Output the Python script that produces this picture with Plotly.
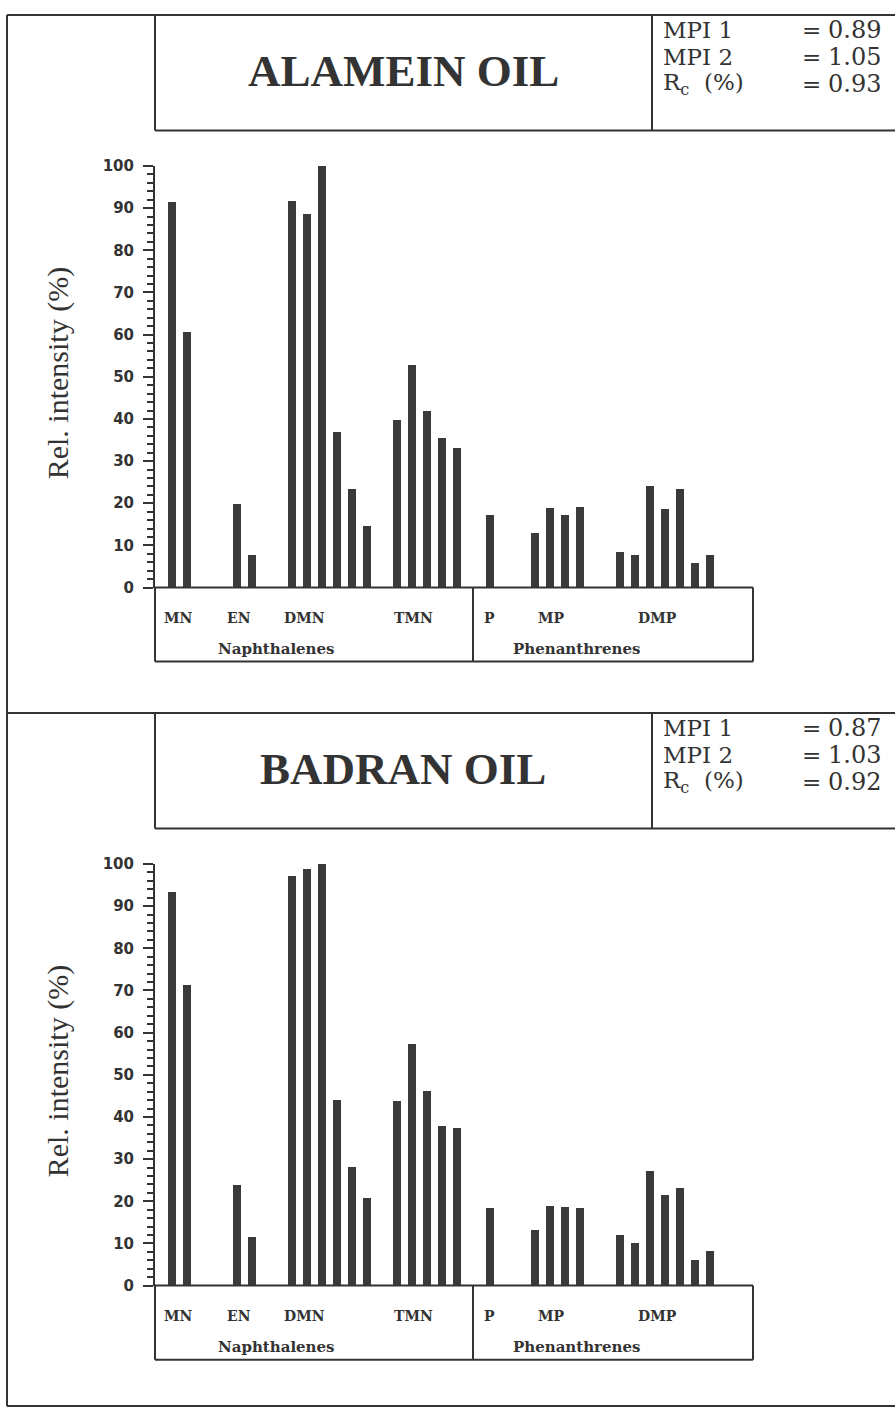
import plotly.graph_objects as go

# ---------------- data ----------------
groups = ["MN", "EN", "DMN", "TMN", "P", "MP", "DMP"]
compounds = {
    "MN": ["2-MN", "1-MN"],
    "EN": ["2-EN", "1-EN"],
    "DMN": ["2,6+2,7-DMN", "1,3+1,7-DMN", "1,6-DMN", "1,4+2,3-DMN", "1,5-DMN", "1,2-DMN"],
    "TMN": ["TMN-1", "TMN-2", "TMN-3", "TMN-4", "TMN-5"],
    "P": ["P"],
    "MP": ["3-MP", "2-MP", "9-MP", "1-MP"],
    "DMP": ["DMP-1", "DMP-2", "DMP-3", "DMP-4", "DMP-5", "DMP-6", "DMP-7"],
}
alamein = [91.4, 60.6, 19.8, 7.8, 91.8, 88.5, 100, 36.8, 23.4, 14.6,
           39.7, 52.8, 41.8, 35.6, 33.1, 17.2, 13.0, 18.8, 17.1, 19.0,
           8.5, 7.8, 24.1, 18.6, 23.5, 5.8, 7.8]
badran = [93.3, 71.2, 23.9, 11.6, 97.2, 98.8, 100, 44.1, 28.1, 20.8,
          43.8, 57.3, 46.1, 37.9, 37.4, 18.5, 13.1, 18.9, 18.6, 18.4,
          11.9, 10.0, 27.1, 21.4, 23.2, 6.0, 8.2]
oils = ["ALAMEIN OIL", "BADRAN OIL"]
mpi1 = ["0.89", "0.87"]
mpi2 = ["1.05", "1.03"]
rc = ["0.93", "0.92"]
families = ["Naphthalenes", "Phenanthrenes"]
y_ticks = list(range(0, 101, 10))

# ---------------- layout helpers ----------------
W, H = 895, 1418
def px(x):
    return x / W
def py(y):
    return 1 - y / H

INK = "#333333"
BAR = "#3a3a3a"
LW = 2

# spacing between groups (in slot units), layout only
group_gap = [0, 3.33, 2.67, 2.0, 2.2, 3.0, 2.67]
positions = []
names = []
cur = 0.0
for gi, g in enumerate(groups):
    cur += group_gap[gi] if gi > 0 else 0
    for k, c in enumerate(compounds[g]):
        if k > 0:
            cur += 1
        positions.append(cur)
        names.append(c)

SLOT = 15.0      # px per slot
X0 = 172.0       # px of first bar
AX_L, AX_R = 155, 753
xrange_ = [(AX_L - X0) / SLOT, (AX_R - X0) / SLOT]

label_px = {"MN": 178, "EN": 239, "DMN": 304, "TMN": 413, "P": 489, "MP": 551, "DMP": 657}
family_px = [276, 576]

fig = go.Figure()
shapes = []
annotations = []

panels = [(alamein, 0), (badran, 707)]
for i, (vals, off) in enumerate(panels):
    xa = "x" if i == 0 else "x2"
    ya = "y" if i == 0 else "y2"
    fig.add_trace(go.Bar(
        x=positions, y=vals, xaxis=xa, yaxis=ya,
        width=0.55, marker=dict(color=BAR, line=dict(width=0)),
        hovertext=names, showlegend=False,
    ))
    axis_common_y = dict(
        range=[0, 100], tickvals=y_ticks, ticks="outside", ticklen=10, tickwidth=2,
        tickcolor=INK, showline=True, linewidth=LW, linecolor=INK, showgrid=False,
        zeroline=False, tickfont=dict(family="DejaVu Sans", size=15, color=INK, weight="bold"),
        ticklabelstandoff=6,
        minor=dict(dtick=2, ticks="outside", ticklen=6, tickwidth=1.5, tickcolor=INK, showgrid=False),
        domain=[py(586 + off), py(159 + off)], fixedrange=True,
    )
    axis_common_x = dict(range=xrange_, visible=False, domain=[px(AX_L), px(AX_R)], fixedrange=True)
    if i == 0:
        fig.update_layout(yaxis=dict(anchor="x", **axis_common_y), xaxis=dict(anchor="y", **axis_common_x))
    else:
        fig.update_layout(yaxis2=dict(anchor="x2", **axis_common_y), xaxis2=dict(anchor="y2", **axis_common_x))

    def line(x0, y0, x1, y1):
        shapes.append(dict(type="line", xref="paper", yref="paper",
                           x0=px(x0), y0=py(y0), x1=px(x1), y1=py(y1),
                           line=dict(color=INK, width=LW)))

    # title box
    line(155, 6 + off, 155, 123 + off)
    line(155, 123 + off, 895, 123 + off)
    line(652, 6 + off, 652, 123 + off)
    # label box under the axis
    line(AX_L, 586 + off, AX_R, 586 + off)
    line(AX_L, 586 + off, AX_L, 661 + off)
    line(AX_L, 661 + off, AX_R, 661 + off)
    line(AX_R, 586 + off, AX_R, 661 + off)
    line(473, 586 + off, 473, 661 + off)

    annotations.append(dict(xref="paper", yref="paper", x=px(403), y=py(63 + off),
                            text=oils[i], showarrow=False, xanchor="center", yanchor="middle",
                            font=dict(family="Liberation Serif", size=45, color=INK, weight="bold")))
    rows = [("MPI 1", mpi1[i]), ("MPI 2", mpi2[i]), ("R<sub>c</sub>  (%)", rc[i])]
    for r, (lab, val) in enumerate(rows):
        yy = 21 + 27.5 * r + off
        annotations.append(dict(xref="paper", yref="paper", x=px(661), y=py(yy), text=lab,
                                showarrow=False, xanchor="left", yanchor="middle",
                                font=dict(family="DejaVu Serif", size=23, color=INK)))
        annotations.append(dict(xref="paper", yref="paper", x=px(800), y=py(yy), text="=",
                                showarrow=False, xanchor="left", yanchor="middle",
                                font=dict(family="DejaVu Serif", size=23, color=INK)))
        annotations.append(dict(xref="paper", yref="paper", x=px(826), y=py(yy), text=val,
                                showarrow=False, xanchor="left", yanchor="middle",
                                font=dict(family="DejaVu Serif", size=24, color=INK)))
    annotations.append(dict(xref="paper", yref="paper", x=px(58), y=py(369 + off),
                            text="Rel. intensity (%)", textangle=-90, showarrow=False,
                            xanchor="center", yanchor="middle",
                            font=dict(family="Liberation Serif", size=30, color=INK)))
    for g in groups:
        annotations.append(dict(xref="paper", yref="paper", x=px(label_px[g]), y=py(617 + off),
                                text=g, showarrow=False, xanchor="center", yanchor="middle",
                                font=dict(family="DejaVu Serif", size=14, color=INK, weight="bold")))
    for f, fx in zip(families, family_px):
        annotations.append(dict(xref="paper", yref="paper", x=px(fx), y=py(648 + off),
                                text=f, showarrow=False, xanchor="center", yanchor="middle",
                                font=dict(family="DejaVu Serif", size=15, color=INK, weight="bold")))

# outer frame
for (x0, y0, x1, y1) in [(7, 6, 895, 6), (7, 6, 7, 1415), (7, 1415, 895, 1415), (7, 713, 895, 713)]:
    shapes.append(dict(type="line", xref="paper", yref="paper",
                       x0=px(x0), y0=py(y0), x1=px(x1), y1=py(y1),
                       line=dict(color=INK, width=LW)))

fig.update_layout(
    width=W, height=H, autosize=False,
    margin=dict(l=0, r=0, t=0, b=0),
    paper_bgcolor="white", plot_bgcolor="white",
    shapes=shapes, annotations=annotations,
    bargap=0, showlegend=False,
)
fig.write_html("out.html", config={"displayModeBar": False})
